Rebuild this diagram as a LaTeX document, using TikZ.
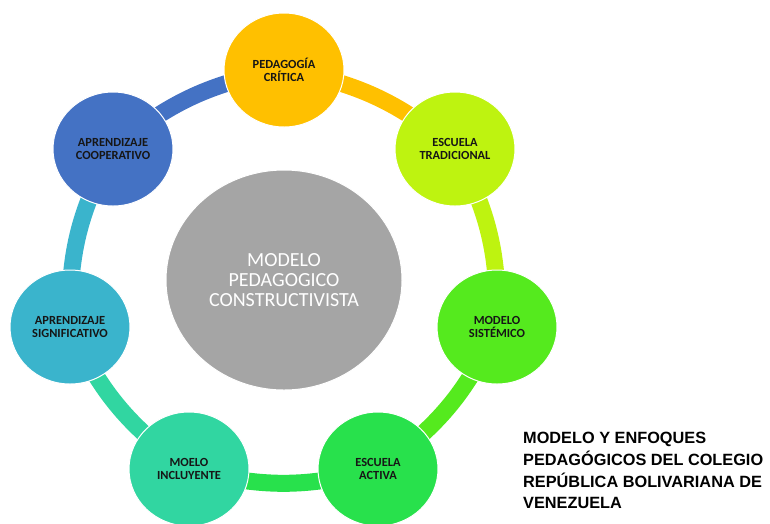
\documentclass[tikz,border=0pt]{standalone}
\usepackage{fontspec}
\setmainfont{Carlito}
\newfontfamily\titlefont{Liberation Sans}
\usetikzlibrary{shapes.geometric,backgrounds}

\definecolor{cYel}{RGB}{255,192,0}
\definecolor{cLime}{RGB}{190,243,16}
\definecolor{cGreenA}{RGB}{85,234,30}
\definecolor{cGreenB}{RGB}{40,225,76}
\definecolor{cTeal}{RGB}{49,214,161}
\definecolor{cCyan}{RGB}{58,180,204}
\definecolor{cBlue}{RGB}{68,114,196}
\definecolor{cGray}{RGB}{165,165,165}
\definecolor{labelc}{RGB}{22,22,22}

\begin{document}
\begin{tikzpicture}[x=1pt,y=-1pt,
    bubble/.style={ellipse,draw=white,line width=1pt,minimum width=120pt,minimum height=114pt,
        inner sep=0pt,align=center,text=labelc,font=\fontsize{12.4}{13}\selectfont\bfseries},
    core/.style={ellipse,draw=white,line width=1pt,fill=cGray,minimum width=236pt,minimum height=220pt,
        inner sep=0pt,align=center,text=white,font=\fontsize{20}{20}\selectfont},
    arco/.style={line width=17pt,bend left=15}]
    \useasboundingbox (0,0) rectangle (770,523);

    \node[core] (mpc) at (284,280) {MODELO\\PEDAGOGICO\\CONSTRUCTIVISTA};

    \node[bubble,fill=cYel] (pc) at (284,70) {PEDAGOGÍA\\CRÍTICA};
    \node[bubble,fill=cLime] (et) at (455,149) {ESCUELA\\TRADICIONAL};
    \node[bubble,fill=cGreenA] (ms) at (497,327) {MODELO\\SISTÉMICO};
    \node[bubble,fill=cGreenB] (ea) at (378,469) {ESCUELA\\ACTIVA};
    \node[bubble,fill=cTeal] (mi) at (189,469) {MOELO\\INCLUYENTE};
    \node[bubble,fill=cCyan] (as) at (70,327) {APRENDIZAJE\\SIGNIFICATIVO};
    \node[bubble,fill=cBlue] (ac) at (113,149) {APRENDIZAJE\\COOPERATIVO};

    \begin{pgfonlayer}{background}
    \path (pc.center) edge[arco,cYel] (et.center)
          (et.center) edge[arco,cLime] (ms.center)
          (ms.center) edge[arco,cGreenA] (ea.center)
          (ea.center) edge[arco,cGreenB] (mi.center)
          (mi.center) edge[arco,cTeal] (as.center)
          (as.center) edge[arco,cCyan] (ac.center)
          (ac.center) edge[arco,cBlue] (pc.center);
    \end{pgfonlayer}

    \node[anchor=north west,inner sep=0pt,align=left,text=black,
          font=\titlefont\bfseries\fontsize{16.3}{21.8}\selectfont] (titulo) at (523,432)
        {MODELO Y ENFOQUES\\PEDAGÓGICOS DEL COLEGIO\\REPÚBLICA BOLIVARIANA DE\\VENEZUELA};
\end{tikzpicture}
\end{document}
